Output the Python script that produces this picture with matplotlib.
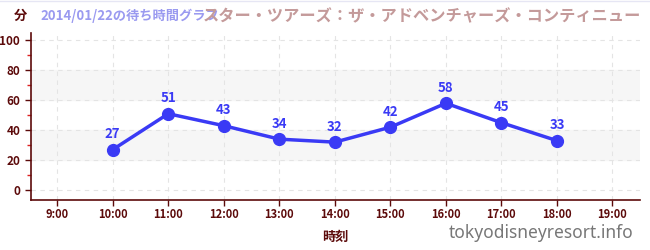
import matplotlib
matplotlib.use("Agg")
import matplotlib.pyplot as plt
from matplotlib.ticker import MultipleLocator

plt.rcParams["font.family"] = ["Noto Sans CJK JP", "DejaVu Sans"]

hours = [10, 11, 12, 13, 14, 15, 16, 17, 18]
waits = [27, 51, 43, 34, 32, 42, 58, 45, 33]
tick_hours = list(range(9, 20))
tick_labels = [f"{h}:00" for h in tick_hours]
y_ticks = [0, 20, 40, 60, 80, 100]
bands = [(20, 40), (60, 80)]

title = "スター・ツアーズ：ザ・アドベンチャーズ・コンティニュー"
subtitle = "2014/01/22の待ち時間グラフ"

c_axis = "#5c0a0a"
c_line = "#3a3af5"

fig = plt.figure(figsize=(6.5, 2.5), dpi=100)
ax = fig.add_axes([0.047, 0.2, 0.938, 0.668])

for lo, hi in bands:
    ax.axhspan(lo, hi, color="#f6f6f6", zorder=0)

ax.plot(hours, waits, color=c_line, linewidth=2.5, marker="o",
        markersize=8.5, zorder=3)
for h, w in zip(hours, waits):
    ax.annotate(str(w), (h, w), xytext=(0, 6), textcoords="offset points",
                ha="center", va="bottom", color=c_line, fontsize=9.5,
                fontweight="bold")

ax.set_xlim(8.52, 19.5)
ax.set_ylim(-6.7, 105)
ax.set_xticks(tick_hours)
ax.set_xticklabels(tick_labels)
ax.set_yticks(y_ticks)
ax.yaxis.set_minor_locator(MultipleLocator(10))
ax.grid(True, which="major", color="#e4e4e4", linestyle=(0, (4, 4)), linewidth=0.8)
ax.set_axisbelow(True)

for side in ["top", "right"]:
    ax.spines[side].set_visible(False)
for side in ["left", "bottom"]:
    ax.spines[side].set_color(c_axis)
    ax.spines[side].set_linewidth(1.2)

ax.tick_params(axis="both", which="major", colors=c_axis, labelsize=8.5,
               length=4, width=1)
ax.tick_params(axis="y", which="minor", color="#dd2222", length=3, width=1)
ax.tick_params(axis="x", labelsize=8, pad=2)
for lbl in ax.get_xticklabels() + ax.get_yticklabels():
    lbl.set_fontweight("bold")

ax.set_xlabel("時刻", color=c_axis, fontsize=9.5, fontweight="bold", labelpad=6)

fig.add_artist(plt.Line2D([0, 1], [0.998, 0.998], color="#e6e6f4", linewidth=1))
fig.text(0.031, 0.935, "分", color=c_axis, fontsize=9.5, fontweight="bold",
         ha="center", va="center")
fig.text(0.062, 0.935, subtitle, color="#9a9af0", fontsize=9.5,
         fontweight="bold", ha="left", va="center")
fig.text(0.986, 0.935, title, color="#c49a9a", fontsize=11.7,
         fontweight="bold", ha="right", va="center")
fig.text(0.975, 0.07, "tokyodisneyresort.info", color="#777777",
         fontsize=12.5, fontweight="bold", ha="right", va="center",
         family=["Noto Sans", "DejaVu Sans"])

fig.savefig("out.png", dpi=100)
